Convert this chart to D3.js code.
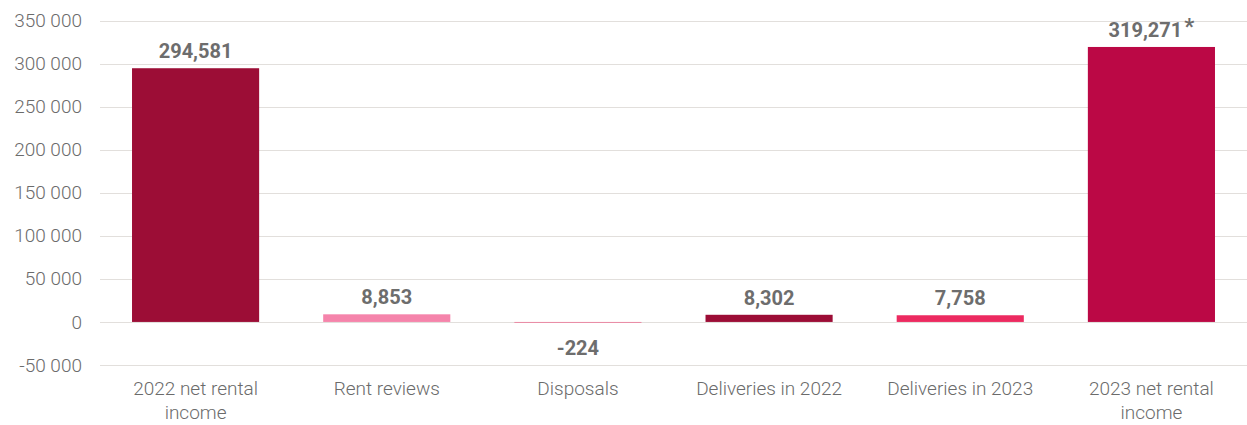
<!DOCTYPE html>
<html><head><meta charset="utf-8">
<script src="https://cdn.jsdelivr.net/npm/d3@7"></script>
<style>
body{margin:0;background:#fff;}
svg{display:block;font-family:Roboto,"Noto Sans",sans-serif;}
</style></head>
<body><svg id="c" width="1247" height="425"></svg>
<script>
const categories = [["2022 net rental","income"],["Rent reviews"],["Disposals"],["Deliveries in 2022"],["Deliveries in 2023"],["2023 net rental","income"]];
const values = [294581, 8853, -224, 8302, 7758, 319271];
const valueLabels = ["294,581","8,853","-224","8,302","7,758","319,271"];
const labelMarks = ["","","","","","*"];
const barColors = ["#9c0d36","#f584ab","#e98aa4","#9c0d36","#ec2a60","#bb0845"];
const yTicks = [-50000,0,50000,100000,150000,200000,250000,300000,350000];

const svg = d3.select("#c");
const W = 1247, H = 425;
const x = d3.scaleBand().domain(d3.range(categories.length)).range([100, W]).paddingInner(0.335).paddingOuter(0.1675);
const y = d3.scaleLinear().domain([-50000, 350000]).range([365, 20.5]);
const fmt = d => d3.format(",")(d).replace(/,/g, " ").replace("\u2212", "-");

// grid
svg.append("g").selectAll("line").data(yTicks).join("line")
  .attr("x1", 100).attr("x2", W)
  .attr("y1", d => Math.round(y(d)) + 0.5).attr("y2", d => Math.round(y(d)) + 0.5)
  .attr("stroke", "#e2dfdc").attr("stroke-width", 1.2);

// y axis
const ya = svg.append("g").attr("transform", "translate(100,0)")
  .call(d3.axisLeft(y).tickValues(yTicks).tickFormat(fmt).tickSize(0).tickPadding(18));
ya.select(".domain").remove();
ya.selectAll("text").attr("font-family", "Roboto").attr("font-weight", 300)
  .attr("font-size", 19).attr("fill", "#6b6b6b");

// bars
svg.append("g").selectAll("rect").data(values).join("rect")
  .attr("x", (d, i) => x(i)).attr("width", x.bandwidth())
  .attr("y", d => y(Math.max(0, d))).attr("height", d => Math.max(1, Math.abs(y(d) - y(0))))
  .attr("fill", (d, i) => barColors[i]);

// value labels
const vl = svg.append("g").selectAll("text").data(values).join("text")
  .attr("x", (d, i) => x(i) + x.bandwidth() / 2)
  .attr("y", d => d >= 0 ? y(d) - 10 : y(0) + 33)
  .attr("text-anchor", "middle").attr("font-weight", 700).attr("font-size", 20)
  .attr("fill", "#6d6d6d");
vl.append("tspan").text((d, i) => valueLabels[i]);
vl.append("tspan").attr("dx", 2).attr("dy", -3).attr("font-size", 22).text((d, i) => labelMarks[i]);

// category labels
const cl = svg.append("g").selectAll("text").data(categories).join("text")
  .attr("x", (d, i) => x(i) + x.bandwidth() / 2).attr("y", 395)
  .attr("text-anchor", "middle").attr("font-weight", 300).attr("font-size", 19).attr("fill", "#6b6b6b");
cl.selectAll("tspan").data(d => d).join("tspan")
  .attr("x", function(){ return this.parentNode.getAttribute("x"); })
  .attr("dy", (d, j) => j ? 24 : 0).text(d => d);
</script></body></html>
